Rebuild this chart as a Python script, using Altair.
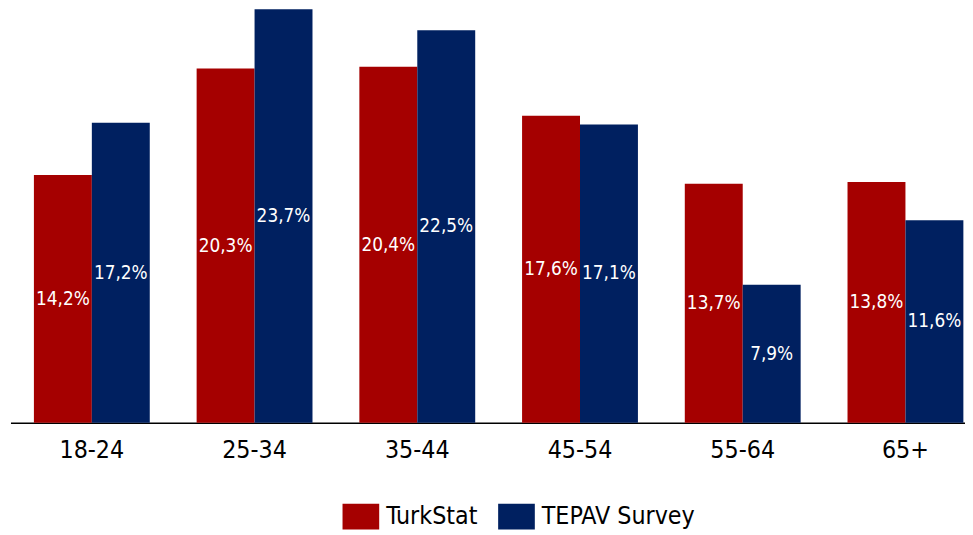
import altair as alt
import pandas as pd

groups = ["18-24", "25-34", "35-44", "45-54", "55-64", "65+"]
series = ["TurkStat", "TEPAV Survey"]
turkstat = [14.2, 20.3, 20.4, 17.6, 13.7, 13.8]
tepav = [17.2, 23.7, 22.5, 17.1, 7.9, 11.6]
colors = ["#A50000", "#002060"]

rows = []
for g, a, b in zip(groups, turkstat, tepav):
    for s, v in zip(series, [a, b]):
        rows.append({"group": g, "series": s, "value": v,
                     "label": f"{v:.1f}".replace(".", ",") + "%"})
df = pd.DataFrame(rows)

FONT = "DejaVu Sans Condensed, DejaVu Sans"

x = alt.X("group:N", sort=groups, title=None,
          scale=alt.Scale(range=[0, 985], paddingInner=0.288, paddingOuter=0.144),
          axis=alt.Axis(labelAngle=0, labelFontSize=25, labelFont=FONT, labelColor="black",
                        ticks=False, labelPadding=15, domainColor="black", domainWidth=1.5))
xo = alt.XOffset("series:N", sort=series, scale=alt.Scale(paddingInner=0, paddingOuter=0))
yscale = alt.Scale(domain=[0, 23.64], nice=False)

base = alt.Chart(df)

bars = base.mark_bar(clip=False).encode(
    x=x, xOffset=xo,
    y=alt.Y("value:Q", scale=yscale, axis=None),
    color=alt.Color("series:N", sort=series,
                    scale=alt.Scale(domain=series, range=colors),
                    legend=alt.Legend(orient="none", legendX=335, legendY=492,
                                      direction="horizontal", title=None,
                                      symbolType="M-1,-0.7L1,-0.7L1,0.7L-1,0.7Z",
                                      symbolSize=1369, symbolStrokeWidth=0,
                                      symbolOpacity=1,
                                      labelFontSize=25, labelFont=FONT, labelColor="black",
                                      columnPadding=20, labelOffset=7, labelLimit=300)),
)

labels = base.transform_calculate(half="datum.value / 2").mark_text(
    color="white", fontSize=19, font=FONT, baseline="middle", align="center", dy=0
).encode(
    x=x, xOffset=xo,
    y=alt.Y("half:Q", scale=yscale, axis=None),
    text="label:N",
)

chart = alt.layer(bars, labels).properties(
    width=963, height=416,
    autosize=alt.AutoSizeParams(type="none"),
    padding={"left": 2.5, "top": 0, "right": 0, "bottom": 110},
).configure_view(stroke=None)

chart.save("out.html", embed_options={"renderer": "svg", "actions": False})
